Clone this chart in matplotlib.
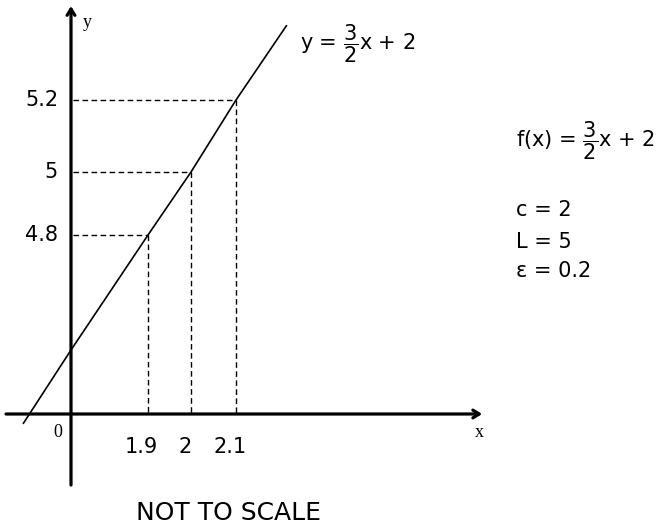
import matplotlib
matplotlib.use("Agg")
import matplotlib.pyplot as plt
import numpy as np

plt.rcParams["font.family"] = ["DejaVu Sans"]
plt.rcParams["mathtext.fontset"] = "dejavusans"

# values shown in the sketch (not to scale)
x_marks = [1.9, 2, 2.1]
y_marks = [4.8, 5, 5.2]
x_labels = ["1.9", "2", "2.1"]
y_labels = ["4.8", "5", "5.2"]

# the drawn line of y = 3/2 x + 2, through the marked points
line_x = [-1.185, 0, 1.9, 2, 2.1, 2.213]
line_y = [-0.31, 2, 4.8, 5, 5.2, 5.408]

# axis extents
x_axis = [-1.605, 2.647]
y_axis = [-2.22, 5.461]

# "not to scale" mapping: value -> pixel position
xk_val = [-2, 0, 1.9, 2, 2.1, 3.5]
xk_px = [-10, 71, 148, 191, 236, 866]
yk_val = [-4, 0, 2, 4.8, 5, 5.2, 6]
yk_px = [-11, 117, 181, 296, 359, 431, 719]


def fx(v):
    return np.interp(v, xk_val, xk_px)


def fx_inv(p):
    return np.interp(p, xk_px, xk_val)


def fy(v):
    return np.interp(v, yk_val, yk_px)


def fy_inv(p):
    return np.interp(p, yk_px, yk_val)


fig = plt.figure(figsize=(6.62, 5.31), dpi=100)
ax = fig.add_axes([0, 0, 1, 1])
ax.set_xscale("function", functions=(fx, fx_inv))
ax.set_yscale("function", functions=(fy, fy_inv))
ax.set_xlim(fx_inv(0), fx_inv(662))
ax.set_ylim(fy_inv(0), fy_inv(531))
ax.axis("off")

# axes with open arrow heads
arrow_kw = dict(arrowstyle="->,head_length=0.45,head_width=0.28", lw=2.3,
                color="black", shrinkA=0, shrinkB=0)
ax.annotate("", xy=(x_axis[1], 0), xytext=(x_axis[0], 0), arrowprops=arrow_kw)
ax.annotate("", xy=(0, y_axis[1]), xytext=(0, y_axis[0]), arrowprops=arrow_kw)

# the line
ax.plot(line_x, line_y, color="black", lw=1.2, solid_capstyle="butt")

# dashed guides
for xv, yv in zip(x_marks, y_marks):
    ax.plot([0.05, xv], [yv, yv], color="black", lw=1.0, linestyle=(0, (4, 2.5)))
    ax.plot([xv, xv], [yv, 0], color="black", lw=1.0, linestyle=(0, (4, 2.5)))

# tick labels
for yv, lab in zip(y_marks, y_labels):
    ax.text(-0.32, yv, lab, ha="right", va="center", fontsize=15)
for xv, lab in zip(x_marks, x_labels):
    ax.annotate(lab, (xv, -1.03), xytext=(-4.5, 0), textcoords="offset points",
                ha="center", va="center", fontsize=15)

serif = ["Liberation Serif", "DejaVu Serif"]
ax.text(-0.32, -0.59, "0", ha="center", va="center", fontsize=13, family=serif)
ax.text(2.64, -0.59, "x", ha="center", va="center", fontsize=13, family=serif)
ax.text(0.395, 5.414, "y", ha="center", va="center", fontsize=13, family=serif)

# equation labels
fig.text(300 / 662, 1 - 44 / 531, r"y = $\dfrac{3}{2}$x + 2", ha="left",
         va="center", fontsize=15)
fig.text(516 / 662, 1 - 141 / 531, r"f(x) = $\dfrac{3}{2}$x + 2", ha="left",
         va="center", fontsize=15)
fig.text(516 / 662, 1 - 210 / 531, "c = 2", ha="left", va="center", fontsize=15)
fig.text(516 / 662, 1 - 242 / 531, "L = 5", ha="left", va="center", fontsize=15)
fig.text(516 / 662, 1 - 271 / 531, "\u03b5 = 0.2", ha="left", va="center", fontsize=15)

fig.text(228 / 662, 1 - 513 / 531, "NOT TO SCALE", ha="center", va="center",
         fontsize=18)

fig.savefig("out.png", dpi=100)
